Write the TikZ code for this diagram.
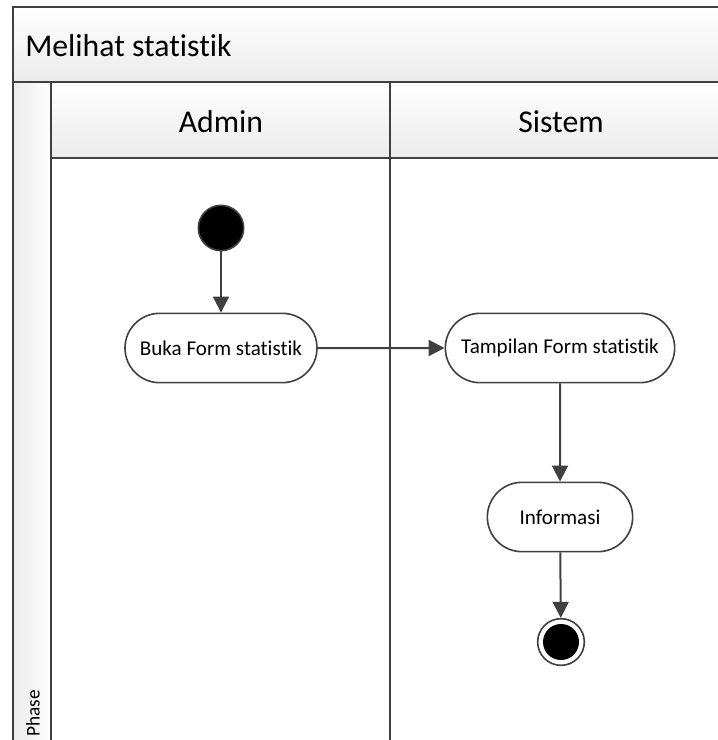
\documentclass[tikz,border=0pt]{standalone}
\usepackage{fontspec}
\setmainfont{Carlito}[Ligatures=NoCommon]
\usetikzlibrary{arrows.meta,shapes.misc}
\definecolor{linegray}{HTML}{404040}
\definecolor{bandgray}{HTML}{EBEBEB}
\tikzset{
    lane/.style = {draw=linegray, line width=1.5pt},
    headtext/.style = {inner sep=0pt, font=\fontsize{23.8}{28}\selectfont},
    action/.style = {draw=linegray, line width=1.2pt, rounded rectangle,
        fill=white, minimum height=52pt, inner sep=0pt,
        font=\fontsize{15.8}{19}\selectfont},
    startnode/.style = {circle, draw=linegray, fill=black, line width=1.2pt,
        minimum size=34pt, inner sep=0pt},
    endring/.style = {circle, draw=linegray, fill=white, line width=1.2pt,
        minimum size=35pt, inner sep=0pt},
    enddot/.style = {circle, fill=black, minimum size=27pt, inner sep=0pt},
    arrow/.style = {draw=linegray, line width=1.5pt,
        -{Triangle[length=12pt,width=12pt]}}
}

\begin{document}
\begin{tikzpicture}[x=0.75pt,y=-0.75pt]
    \useasboundingbox (0,0) rectangle (718,740);
    \clip (0,0) rectangle (718,740);
    % pool and lanes
    \shade[top color=white, bottom color=bandgray] (13,7) rectangle (730,82);
    \shade[left color=bandgray, right color=white] (13,82) rectangle (51,750);
    \shade[top color=white, bottom color=bandgray] (51,82) rectangle (730,158);
    \draw[lane] (13,750) -- (13,7) -- (730,7);
    \draw[lane] (13,82) -- (730,82);
    \draw[lane] (51,82) -- (51,750);
    \draw[lane] (51,158) -- (730,158);
    \draw[lane] (390,82) -- (390,750);
    \node [headtext, anchor=west] (title) at (25,46) {Melihat statistik};
    \node [headtext] (admin) at (221,122) {Admin};
    \node [headtext] (sistem) at (561,122) {Sistem};
    \node [rotate=90, anchor=west, inner sep=0pt, font=\fontsize{14.5}{17}\selectfont] (phase) at (33,737) {Phase};
    % activities
    \node [startnode] (start) at (221,228) {};
    \node [action, minimum width=144pt] (buka) at (221,348) {Buka Form statistik};
    \node [action, minimum width=172pt] (tampil) at (560,348) {Tampilan Form statistik};
    \node [action, minimum width=109pt] (info) at (560,517) {Informasi};
    \node [endring] (end) at (561,642) {};
    \node [enddot] (enddot) at (end) {};
    % flows
    \draw[arrow] (start) -- (buka);
    \draw[arrow] (buka) -- (tampil);
    \draw[arrow] (tampil) -- (info);
    \draw[arrow] (info) -- (end);
\end{tikzpicture}
\end{document}
